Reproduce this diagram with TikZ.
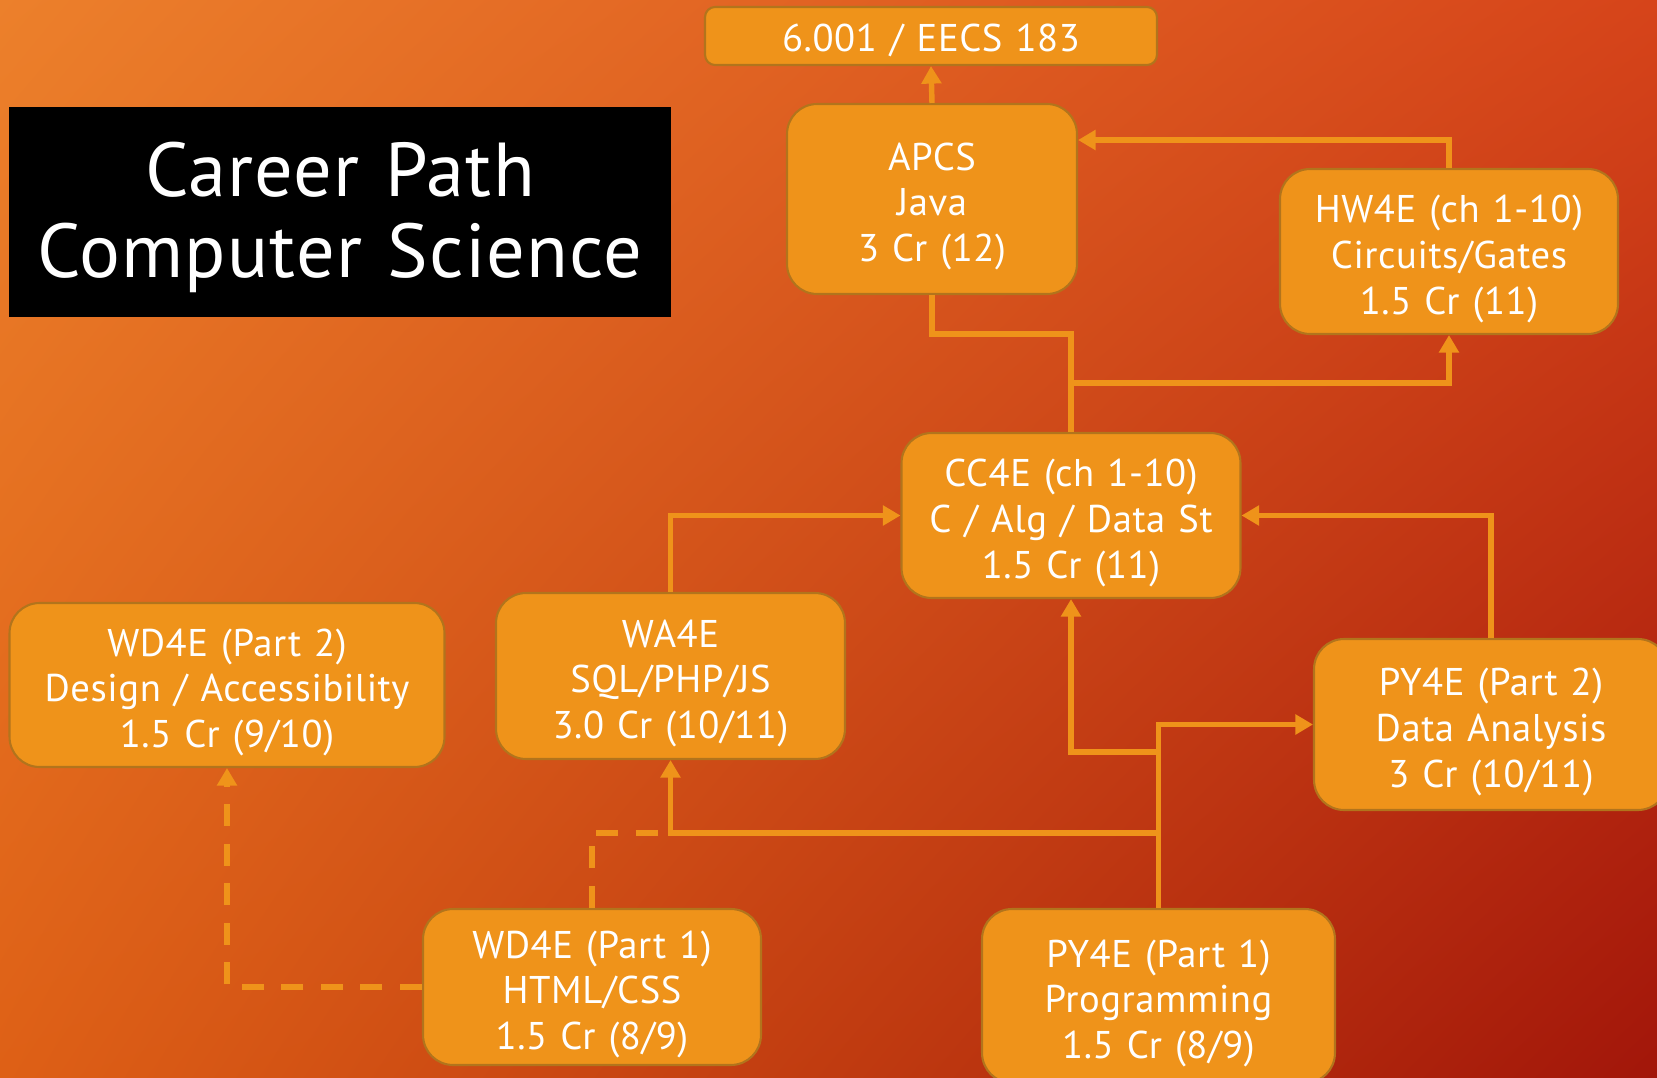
\documentclass[tikz,border=0pt]{standalone}
\usepackage{fontspec}
\setmainfont{PT Sans}[LetterSpace=1.5, WordSpace=1.2]
\usetikzlibrary{arrows.meta,shadings}
\definecolor{bgtl}{RGB}{236,128,43}
\definecolor{bgtr}{RGB}{214,68,26}
\definecolor{bgbl}{RGB}{222,96,22}
\definecolor{bgbr}{RGB}{162,22,10}
\definecolor{boxfill}{RGB}{239,147,26}
\definecolor{boxedge}{RGB}{178,116,28}
\newcommand{\lift}[1]{\rule{0pt}{#1}}
\tikzset{>={Triangle[width=11pt,length=10pt]}}
\tikzset{
  course/.style={rectangle, rounded corners=0.6cm, draw=boxedge, line width=1.2pt,
    fill=boxfill, text=white, align=center, inner sep=0pt,
    font=\fontsize{22}{26}\selectfont},
  link/.style={draw=boxfill, line width=3.1pt},
  dashlink/.style={link, dash pattern=on 12.5pt off 10pt}
}

\begin{document}
\begin{tikzpicture}[x=0.02cm, y=-0.02cm]
\shade[upper left=bgtl, upper right=bgtr, lower left=bgbl, lower right=bgbr]
  (0,0) rectangle (1657,1078);
\useasboundingbox (0,0) rectangle (1657,1078);

\node[fill=black, text=white, align=center, minimum width=13.24cm, minimum height=4.2cm,
  font=\fontsize{43.5}{46.5}\selectfont] (title) at (340,212) {\lift{37pt}Career Path\\Computer Science};

\node[course, rounded corners=0.2cm, minimum width=9.04cm, minimum height=1.16cm,
  text height=20.5pt] (exam) at (931,36) {6.001 / EECS 183};
\node[course, minimum width=5.8cm, minimum height=3.8cm] (apcs) at (932,199) {\lift{24pt}APCS\\Java\\3 Cr (12)};
\node[course, minimum width=6.76cm, minimum height=3.3cm] (hw) at (1449,251.5) {\lift{24pt}HW4E (ch 1-10)\\Circuits/Gates\\1.5 Cr (11)};
\node[course, minimum width=6.78cm, minimum height=3.3cm] (cc) at (1071,515.5) {\lift{24pt}CC4E (ch 1-10)\\C / Alg / Data St\\1.5 Cr (11)};
\node[course, minimum width=6.98cm, minimum height=3.32cm] (wa) at (670.5,676) {\lift{24pt}WA4E\\SQL/PHP/JS\\3.0 Cr (10/11)};
\node[course, minimum width=8.7cm, minimum height=3.28cm] (wdtwo) at (227,685) {\lift{24pt}WD4E (Part 2)\\Design / Accessibility\\1.5 Cr (9/10)};
\node[course, minimum width=7.08cm, minimum height=3.42cm] (pytwo) at (1491,724.5) {\lift{24pt}PY4E (Part 2)\\Data Analysis\\3 Cr (10/11)};
\node[course, minimum width=6.76cm, minimum height=3.12cm] (wdone) at (592,987) {\lift{24pt}WD4E (Part 1)\\HTML/CSS\\1.5 Cr (8/9)};
\node[course, minimum width=7.06cm, minimum height=3.48cm] (pyone) at (1158.5,996) {\lift{24pt}PY4E (Part 1)\\Programming\\1.5 Cr (8/9)};

\coordinate (apcsjoin) at (1071,334);
\coordinate (hwjoin) at (1071,383);
\coordinate (ccjoin) at (1158.5,752);
\coordinate (wajoin) at (1158.5,833);
\coordinate (webjoin) at (670.5,833);

\draw[link, ->] (apcs.north) -- (exam.south);
\draw[link, ->] (hw.north) |- ([yshift=1.18cm]apcs.east);
\draw[link] (cc.north) |- (apcs.south |- apcsjoin) -- (apcs.south);
\draw[link, ->] (hwjoin) -| (hw.south);
\draw[link, ->] (wa.north) |- (cc.west);
\draw[link, ->] (pytwo.north) |- (cc.east);
\draw[link, ->] (pyone.north) |- (pytwo.west);
\draw[link, ->] (ccjoin) -| (cc.south);
\draw[link, ->] (wajoin) -| (wa.south);
\draw[dashlink] (wdone.north) |- (webjoin);
\draw[dashlink, ->] (wdone.west) -| (wdtwo.south);
\end{tikzpicture}
\end{document}
